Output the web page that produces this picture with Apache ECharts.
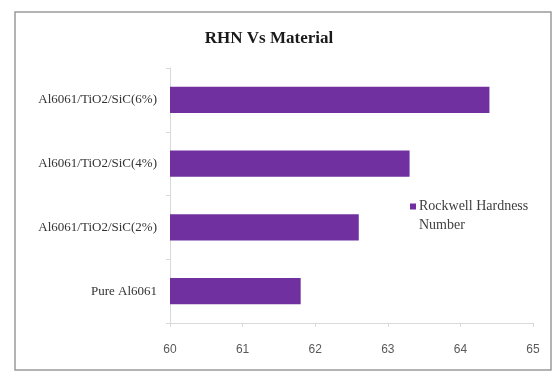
<!DOCTYPE html>
<html>
<head>
<meta charset="utf-8">
<script src="https://cdn.jsdelivr.net/npm/echarts@6/dist/echarts.min.js"></script>
<style>
  html, body { margin: 0; padding: 0; background: #fff; }
  #chart { width: 552px; height: 371px; }
</style>
</head>
<body>
<div id="chart"></div>
<script>
// data
const materials = ['Pure Al6061', 'Al6061/TiO2/SiC(2%)', 'Al6061/TiO2/SiC(4%)', 'Al6061/TiO2/SiC(6%)'];
const hardness = [61.8, 62.6, 63.3, 64.4];
const seriesName = 'Rockwell Hardness Number';
const axisMin = 60;
const axisMax = 65;

const serif = '"Liberation Serif", "DejaVu Serif", serif';

const chart = echarts.init(document.getElementById('chart'));
chart.setOption({
  animation: false,
  title: {
    text: 'RHN Vs Material',
    left: 264,
    top: 25,
    textAlign: 'center',
    textStyle: {
      fontFamily: serif,
      fontSize: 17,
      fontWeight: 'bold',
      color: '#1a1a1a'
    }
  },
  graphic: [{
    type: 'rect',
    shape: { x: 15, y: 12, width: 536, height: 358 },
    style: { fill: 'none', stroke: '#9a9a9a', lineWidth: 1.5 },
    silent: true
  }],
  grid: {
    left: 170,
    right: 19,
    top: 68,
    bottom: 48
  },
  legend: {
    left: 405,
    top: 192,
    orient: 'vertical',
    // square sits at the top of a tall box so it lines up with the first text line
    icon: 'path://M0,0h6v6h-6zM0,25h0.01v0.01h-0.01z',
    itemWidth: 6,
    itemHeight: 25,
    itemGap: 4,
    data: [seriesName],
    formatter: function() {
      return 'Rockwell Hardness\nNumber';
    },
    textStyle: {
      fontFamily: serif,
      fontSize: 14,
      color: '#404040',
      lineHeight: 19,
      padding: [0, 0, 0, -2]
    }
  },
  xAxis: {
    type: 'value',
    min: axisMin,
    max: axisMax,
    interval: 1,
    axisLine: { show: true, lineStyle: { color: '#d9d9d9' } },
    axisTick: { show: true, length: 4, lineStyle: { color: '#d9d9d9' } },
    splitLine: { show: false },
    axisLabel: {
      margin: 21,
      fontFamily: '"Liberation Sans", "DejaVu Sans", sans-serif',
      fontSize: 12,
      color: '#595959'
    }
  },
  yAxis: {
    type: 'category',
    data: materials,
    axisLine: { show: true, lineStyle: { color: '#d9d9d9' } },
    axisTick: { show: true, length: 4, lineStyle: { color: '#d9d9d9' } },
    axisLabel: {
      margin: 13,
      fontFamily: serif,
      fontSize: 13,
      color: '#333'
    }
  },
  series: [{
    name: seriesName,
    type: 'bar',
    data: hardness,
    barCategoryGap: '59%',
    itemStyle: { color: '#7030a0' }
  }]
});
</script>
</body>
</html>
